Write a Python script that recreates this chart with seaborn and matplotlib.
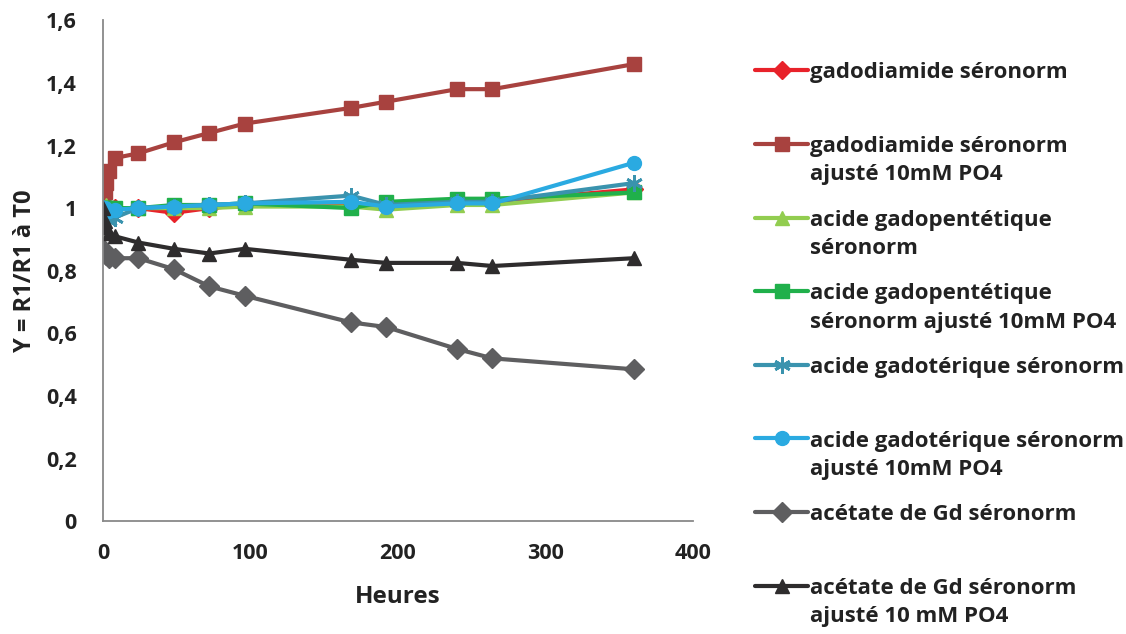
import matplotlib
matplotlib.use("Agg")
import matplotlib.pyplot as plt
import seaborn as sns
from matplotlib.ticker import FuncFormatter, MultipleLocator

sns.set_style("white")
plt.rcParams['font.family'] = ['Open Sans', 'DejaVu Sans']
plt.rcParams['font.weight'] = 'bold'

# heures de prélèvement
heures = [0, 1, 2, 4, 8, 24, 48, 72, 96, 168, 192, 240, 264, 360]

# Y = R1 / R1 à T0, une liste par série
gadodiamide = [1.00, 1.00, 1.00, 1.00, 1.00, 1.00, 0.985, 1.00, 1.01, 1.01, 1.01, 1.02, 1.02, 1.06]
gadodiamide_po4 = [1.01, 1.05, 1.08, 1.12, 1.16, 1.175, 1.21, 1.24, 1.27, 1.32, 1.34, 1.38, 1.38, 1.46]
gadopentetique = [1.00, 1.00, 1.01, 1.00, 1.00, 1.00, 1.00, 1.00, 1.005, 1.005, 0.995, 1.01, 1.01, 1.05]
gadopentetique_po4 = [1.00, 1.00, 1.00, 1.00, 1.00, 1.00, 1.01, 1.01, 1.015, 1.00, 1.02, 1.03, 1.03, 1.05]
gadoterique = [1.00, 0.98, 0.97, 0.96, 0.97, 1.00, 1.005, 1.01, 1.015, 1.04, 1.01, 1.02, 1.02, 1.08]
gadoterique_po4 = [1.00, 1.00, 0.995, 0.99, 0.995, 1.00, 1.005, 1.01, 1.015, 1.02, 1.005, 1.015, 1.015, 1.145]
acetate = [0.87, 0.86, 0.85, 0.84, 0.84, 0.84, 0.805, 0.75, 0.72, 0.635, 0.62, 0.55, 0.52, 0.485]
acetate_po4 = [1.00, 0.96, 0.94, 0.92, 0.91, 0.89, 0.87, 0.855, 0.87, 0.835, 0.825, 0.825, 0.815, 0.84]

series = [
    ("gadodiamide séronorm", gadodiamide, "#E8222A", "D", 9),
    ("gadodiamide séronorm\najusté 10mM PO4", gadodiamide_po4, "#A8423F", "s", 10),
    ("acide gadopentétique\nséronorm", gadopentetique, "#92CD50", "^", 10),
    ("acide gadopentétique\nséronorm ajusté 10mM PO4", gadopentetique_po4, "#20B04B", "s", 10),
    ("acide gadotérique séronorm", gadoterique, "#3A93AE", (6, 2, 0), 12),
    ("acide gadotérique séronorm\najusté 10mM PO4", gadoterique_po4, "#2AAAE1", "o", 10),
    ("acétate de Gd séronorm", acetate, "#5E5E60", "D", 10),
    ("acétate de Gd séronorm\najusté 10 mM PO4", acetate_po4, "#2E2C2D", "^", 10),
]

fig = plt.figure(figsize=(11.26, 6.34), dpi=100)
ax = fig.add_axes([0.0915, 0.178, 0.524, 0.79])

for label, vals, color, marker, ms in series:
    if "\n" not in label:
        label = label + "\n "
    sns.lineplot(x=heures, y=vals, ax=ax, color=color, linewidth=3,
                 marker=marker, markersize=ms, markeredgecolor=color,
                 markeredgewidth=2 if isinstance(marker, tuple) else 1,
                 label=label)

ax.set_xlim(0, 400)
ax.set_ylim(0, 1.6)
ax.xaxis.set_major_locator(MultipleLocator(100))
ax.yaxis.set_major_locator(MultipleLocator(0.2))
ax.yaxis.set_major_formatter(FuncFormatter(lambda v, p: f"{v:g}".replace(".", ",")))

grey = "#898989"
for side in ["top", "right"]:
    ax.spines[side].set_visible(False)
for side in ["left", "bottom"]:
    ax.spines[side].set_color(grey)
    ax.spines[side].set_linewidth(1.3)
ax.tick_params(axis="both", direction="out", length=5, width=1.3, color=grey,
               labelsize=15.5, labelcolor="#222222")
ax.tick_params(axis="y", pad=14)
ax.tick_params(axis="x", pad=11)
for t in ax.get_xticklabels() + ax.get_yticklabels():
    t.set_fontweight("bold")

ax.set_xlabel("Heures", fontsize=17.5, fontweight="bold", color="#222222", labelpad=15)
ax.set_ylabel("Y = R1/R1 à T0", fontsize=17, fontweight="bold", color="#222222", labelpad=6)

handles, labels = ax.get_legend_handles_labels()
ax.get_legend().remove()
leg = fig.legend(handles, labels, loc="upper left", bbox_to_anchor=(0.661, 0.919),
                 frameon=False, handlelength=2.35, handletextpad=0.1,
                 labelspacing=1.1, borderpad=0, prop={"weight": "bold", "size": 16})
for t in leg.get_texts():
    t.set_color("#222222")
    t.set_linespacing(1.45)
# aligner le symbole sur la première ligne du libellé
for col in leg._legend_handle_box.get_children():
    for row in col.get_children():
        row.align = "top"

fig.savefig("out.png", dpi=100)
